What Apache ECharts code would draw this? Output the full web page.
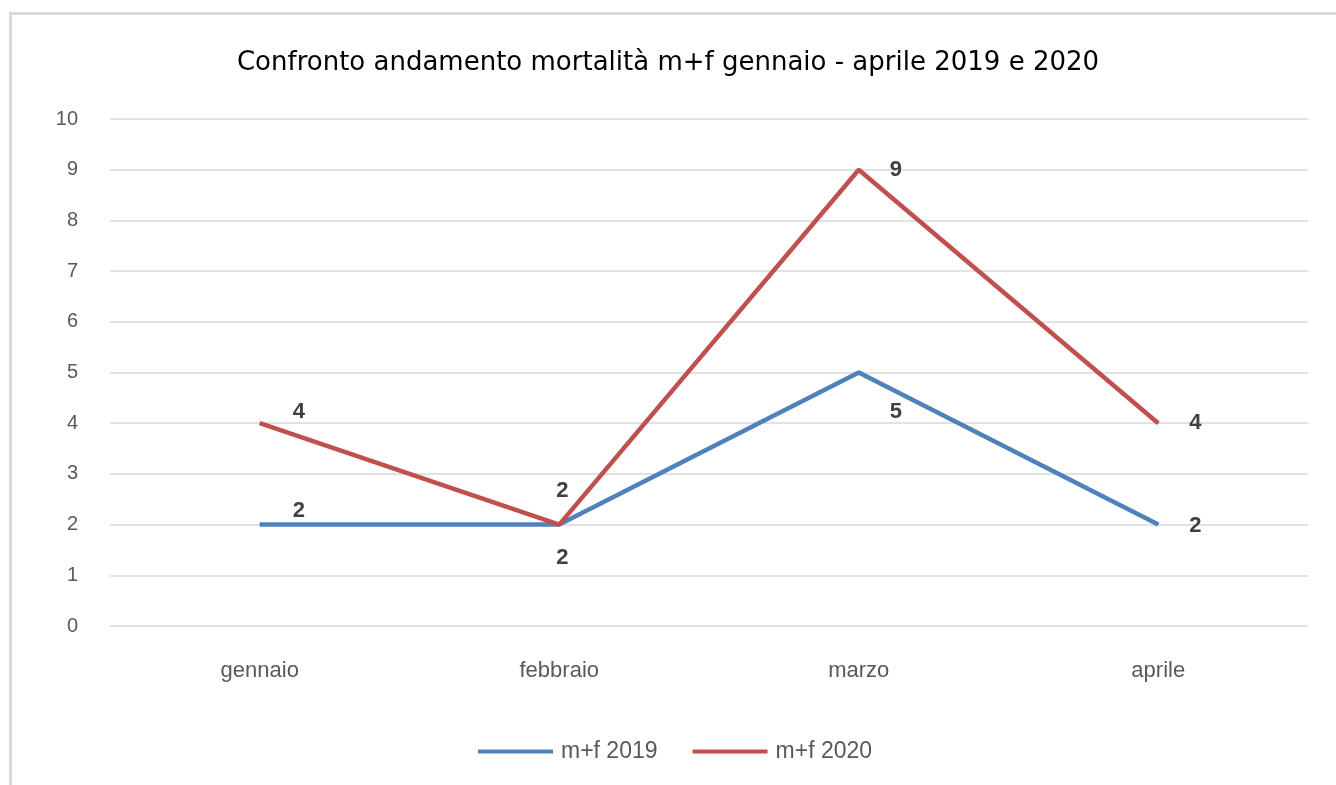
<!DOCTYPE html>
<html>
<head>
<meta charset="utf-8">
<script src="https://cdn.jsdelivr.net/npm/echarts@6/dist/echarts.min.js"></script>
<style>
html,body{margin:0;padding:0;background:#fff;}
#chart{width:1336px;height:785px;}
</style>
</head>
<body>
<div id="chart"></div>
<script>
const titleText = 'Confronto andamento mortalità m+f gennaio - aprile 2019 e 2020';
const categories = ['gennaio', 'febbraio', 'marzo', 'aprile'];
const seriesNames = ['m+f 2019', 'm+f 2020'];
const values2019 = [2, 2, 5, 2];
const values2020 = [4, 2, 9, 4];
const yTicks = [0, 1, 2, 3, 4, 5, 6, 7, 8, 9, 10];

// label offsets (style only)
const offsets2019 = [[39, -14], [3, 33], [37, 39], [37, 1]];
const offsets2020 = [[39, -11], [3, -34], [37, 0], [37, 0]];

function withLabels(vals, offs) {
  return vals.map((v, i) => ({
    value: v,
    label: { show: true, position: 'inside', offset: offs[i] }
  }));
}

const chart = echarts.init(document.getElementById('chart'));
const labelStyle = {
  show: true,
  color: '#404040', fontSize: 22, fontWeight: 'bold',
  fontFamily: 'Liberation Sans, Arial, sans-serif'
};
chart.setOption({
  backgroundColor: '#fff',
  animation: false,
  title: {
    text: titleText,
    left: 'center',
    top: 45,
    textStyle: {
      color: '#000', fontSize: 26, fontWeight: 'normal',
      fontFamily: 'DejaVu Sans, sans-serif'
    }
  },
  legend: {
    top: 735,
    left: 473,
    itemWidth: 75,
    itemHeight: 4,
    itemGap: 35,
    icon: 'rect',
    textStyle: { color: '#595959', fontSize: 23, fontFamily: 'Liberation Sans, sans-serif', padding: [0, 0, 0, 3] },
    data: seriesNames
  },
  grid: { left: 110, right: 28, top: 119, bottom: 159, containLabel: false },
  xAxis: {
    type: 'category',
    data: categories,
    boundaryGap: true,
    axisLine: { show: false },
    axisTick: { show: false },
    axisLabel: {
      color: '#595959', fontSize: 22, margin: 34,
      fontFamily: 'Liberation Sans, sans-serif'
    }
  },
  yAxis: {
    type: 'value',
    min: yTicks[0],
    max: yTicks[yTicks.length - 1],
    interval: 1,
    axisLine: { show: false },
    axisTick: { show: false },
    axisLabel: {
      color: '#595959', fontSize: 20, margin: 32,
      fontFamily: 'Liberation Sans, sans-serif'
    },
    splitLine: { lineStyle: { color: '#D9D9D9', width: 1.5 } }
  },
  series: [
    {
      name: seriesNames[0],
      type: 'line',
      data: withLabels(values2019, offsets2019),
      symbol: 'circle',
      symbolSize: 1,
      showSymbol: true,
      color: '#4F81BD',
      lineStyle: { color: '#4F81BD', width: 4.5 },
      itemStyle: { color: '#4F81BD' },
      label: labelStyle,
      z: 2
    },
    {
      name: seriesNames[1],
      type: 'line',
      data: withLabels(values2020, offsets2020),
      symbol: 'circle',
      symbolSize: 1,
      showSymbol: true,
      color: '#C0504D',
      lineStyle: { color: '#C0504D', width: 4.5 },
      itemStyle: { color: '#C0504D' },
      label: labelStyle,
      z: 3
    }
  ],
  graphic: [
    { type: 'rect', shape: { x: 9, y: 12, width: 1327, height: 3 }, style: { fill: '#D9D9D9' }, silent: true },
    { type: 'rect', shape: { x: 9, y: 12, width: 3, height: 773 }, style: { fill: '#D9D9D9' }, silent: true }
  ]
});
</script>
</body>
</html>
